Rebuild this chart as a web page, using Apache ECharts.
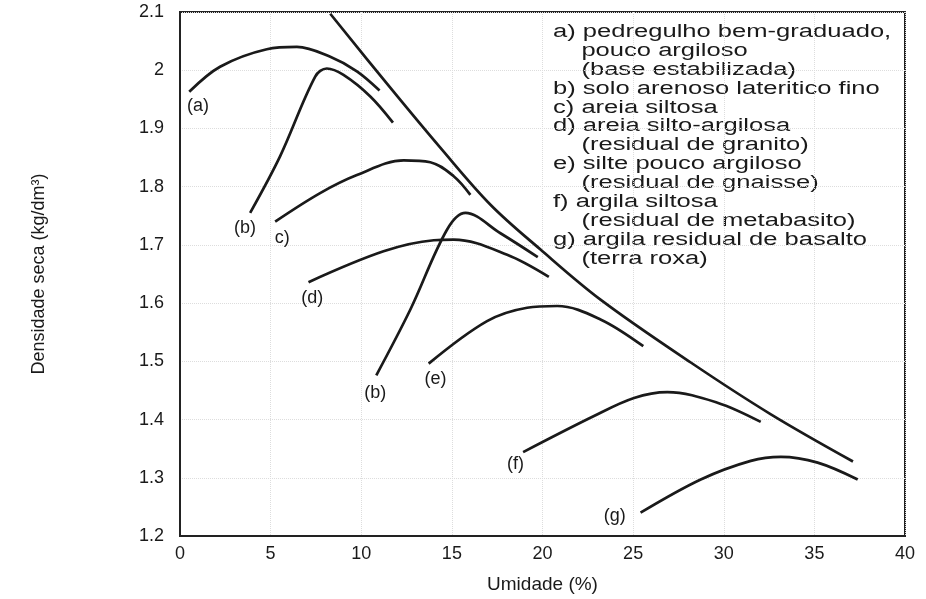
<!DOCTYPE html>
<html>
<head>
<meta charset="utf-8">
<script src="https://cdn.jsdelivr.net/npm/echarts@6/dist/echarts.min.js"></script>
<style>
html,body{margin:0;padding:0;background:#fff;}
#chart{width:926px;height:599px;}
</style>
</head>
<body>
<div id="chart"></div>
<script>
// Compaction curves: [umidade (%), densidade seca (kg/dm3)]
const curveA  = [[0.51,1.963],[2.21,2.006],[4.79,2.036],[6.45,2.040],[8.29,2.023],[9.76,1.998],[11.01,1.965]];
const curveB1 = [[3.87,1.755],[5.52,1.852],[7.46,1.989],[8.10,2.003],[9.02,1.992],[10.50,1.955],[11.75,1.910]];
const curveC  = [[5.25,1.740],[7.73,1.789],[9.76,1.820],[12.34,1.845],[13.81,1.842],[15.10,1.818],[16.02,1.786]];
const curveD  = [[7.09,1.636],[11.23,1.689],[14.00,1.708],[15.10,1.709],[18.05,1.683],[20.35,1.645]];
const curveB2 = [[10.83,1.476],[12.71,1.589],[14.73,1.726],[15.75,1.755],[17.68,1.720],[19.74,1.679]];
const curveE  = [[13.72,1.496],[16.94,1.569],[19.15,1.592],[20.81,1.595],[23.20,1.572],[25.56,1.526]];
const curveF  = [[18.93,1.344],[22.84,1.406],[25.05,1.437],[26.89,1.447],[29.65,1.429],[32.04,1.396]];
const curveG  = [[25.41,1.240],[28.73,1.297],[31.49,1.329],[33.15,1.336],[35.18,1.326],[37.39,1.297]];
// Saturation line
const saturation = [[8.29,2.097],[11.60,1.970],[14.36,1.867],[17.13,1.769],[19.89,1.692],[23.20,1.606],[28.18,1.498],[32.60,1.409],[37.13,1.328]];

// Curve labels and their positions (data units)
const curveLabels = ['(a)','(b)','c)','(d)','(b)','(e)','(f)','(g)'];
const labelX = [0.99, 3.59, 5.64, 7.29, 10.77, 14.09, 18.51, 23.98];
const labelY = [1.939, 1.729, 1.712, 1.609, 1.446, 1.469, 1.323, 1.234];

// Axis settings
const xMin = 0, xMax = 40, xStep = 5;
const yMin = 1.2, yMax = 2.1, yStep = 0.1;
const xName = 'Umidade (%)';
const yName = 'Densidade seca (kg/dm³)';

// Legend note text
const noteLines = [
  'a) pedregulho bem-graduado,',
  '    pouco argiloso',
  '    (base estabilizada)',
  'b) solo arenoso lateritico fino',
  'c) areia siltosa',
  'd) areia silto-argilosa',
  '    (residual de granito)',
  'e) silte pouco argiloso',
  '    (residual de gnaisse)',
  'f) argila siltosa',
  '    (residual de metabasito)',
  'g) argila residual de basalto',
  '    (terra roxa)'
];

const chart = echarts.init(document.getElementById('chart'), null, {renderer:'canvas'});
const font = 'Liberation Sans, Arial, sans-serif';
const ink = '#1a1a1a';

function curve(data){
  return {type:'line', data:data, smooth:0.35, showSymbol:false, symbol:'none',
    lineStyle:{color:ink, width:2.7}, silent:true, z:3};
}

const series = [curveA, curveB1, curveC, curveD, curveB2, curveE, curveF, curveG, saturation].map(curve);
series.push({
  type:'scatter', symbolSize:0, silent:true, z:4,
  itemStyle:{opacity:1, color:ink},
  data: curveLabels.map((t,i)=>({name:t, value:[labelX[i], labelY[i]]})),
  label:{show:true, position:'inside', formatter:p=>p.name, color:ink, opacity:1,
    textBorderWidth:0, fontFamily:font, fontSize:18}
});

const graphic = noteLines.map((t,i)=>({
  type:'text', x:553, y:23 + i*18.9, scaleX:1.42, scaleY:1,
  style:{text:t, fill:ink, font:'18px ' + font, textVerticalAlign:'top'}
}));

chart.setOption({
  backgroundColor:'#ffffff',
  animation:false,
  grid:{left:180, right:21, top:12, bottom:62, show:true, borderColor:'#222', borderWidth:2, backgroundColor:'transparent'},
  xAxis:{
    type:'value', min:xMin, max:xMax, interval:xStep,
    name:xName, nameLocation:'middle', nameGap:39,
    nameTextStyle:{color:ink, fontFamily:font, fontSize:19},
    axisLine:{show:true, lineStyle:{color:'#222', width:2}},
    axisTick:{show:false},
    axisLabel:{color:ink, fontFamily:font, fontSize:18, margin:9},
    splitLine:{show:true, lineStyle:{color:'#dddddd', type:'dotted', width:1}}
  },
  yAxis:{
    type:'value', min:yMin, max:yMax, interval:yStep,
    name:yName, nameLocation:'middle', nameGap:132, nameRotate:90,
    nameTextStyle:{color:ink, fontFamily:font, fontSize:18},
    axisLine:{show:true, lineStyle:{color:'#222', width:2}},
    axisTick:{show:false},
    axisLabel:{color:ink, fontFamily:font, fontSize:18, margin:16},
    splitLine:{show:true, lineStyle:{color:'#dddddd', type:'dotted', width:1}}
  },
  graphic: graphic,
  series: series
});
</script>
</body>
</html>
